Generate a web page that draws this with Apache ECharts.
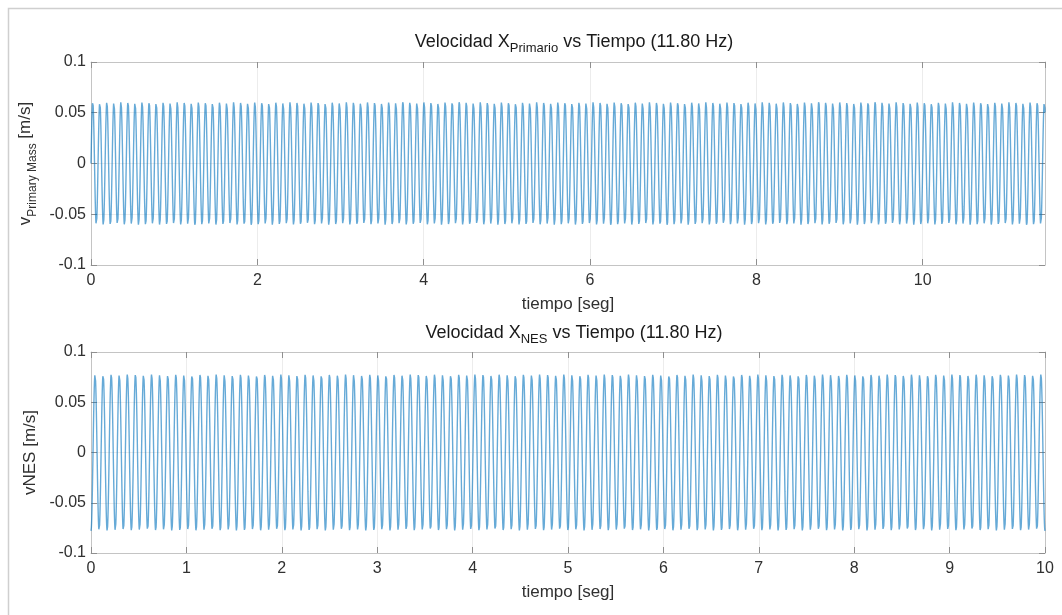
<!DOCTYPE html>
<html>
<head>
<meta charset="utf-8">
<script src="https://cdn.jsdelivr.net/npm/echarts@6/dist/echarts.min.js"></script>
<style>
  html, body { margin: 0; padding: 0; background: #ffffff; }
  #main { width: 1062px; height: 615px; }
</style>
</head>
<body>
<div id="main"></div>
<script>
// values
var freqHz = 11.8;                 // from the titles (11.80 Hz)
var topTimeEnd = 11.47;            // top plot runs to the right border
var bottomTimeEnd = 10;
// amplitude of the oscillation, read once per second
var topEnvelope = [0.061, 0.061, 0.061, 0.061, 0.061, 0.061, 0.061, 0.061, 0.061, 0.061, 0.061, 0.061];
var bottomEnvelope = [0.078, 0.078, 0.078, 0.078, 0.078, 0.078, 0.078, 0.078, 0.078, 0.078, 0.078];
var topPhase = 0;                  // starts at 0 going up
var bottomPhase = -Math.PI / 2;    // starts near the negative peak
var sampleStep = 0.002;
var topXTicks = [0, 2, 4, 6, 8, 10];
var bottomXTicks = [0, 1, 2, 3, 4, 5, 6, 7, 8, 9, 10];
var yTicks = [-0.1, -0.05, 0, 0.05, 0.1];

function buildTrace(tEnd, envelope, phase) {
    var pts = [];
    var n = Math.round(tEnd / sampleStep);
    for (var i = 0; i <= n; i++) {
        var t = i * sampleStep;
        var a = envelope[Math.min(Math.floor(t), envelope.length - 1)];
        pts.push([t, a * Math.sin(2 * Math.PI * freqHz * t + phase)]);
    }
    return pts;
}

var chart = echarts.init(document.getElementById('main'), null, { renderer: 'canvas' });

var font = 'Liberation Sans, Arial, Helvetica, sans-serif';
var labelColor = '#303030';
var boxColor = '#c4c4c4';
var tickColor = '#8f8f8f';
var gridColor = '#ececec';

function xAxisPair(gridIndex, tEnd, step) {
    return [{
        type: 'value', gridIndex: gridIndex, min: 0, max: tEnd, interval: step,
        name: 'tiempo [seg]', nameLocation: 'middle', nameGap: 31,
        nameTextStyle: { color: labelColor, fontSize: 17, fontFamily: font },
        axisLine: { onZero: false, lineStyle: { color: boxColor } },
        axisTick: { inside: true, length: 6, lineStyle: { color: tickColor } },
        axisLabel: { color: labelColor, fontSize: 16, fontFamily: font, margin: 8, showMaxLabel: tEnd % step === 0 },
        splitLine: { show: true, lineStyle: { color: gridColor } }
    }, {
        type: 'value', gridIndex: gridIndex, min: 0, max: tEnd, interval: step, position: 'top',
        axisLine: { onZero: false, lineStyle: { color: boxColor } },
        axisTick: { inside: true, length: 6, lineStyle: { color: tickColor } },
        axisLabel: { show: false }, splitLine: { show: false }
    }];
}

function yAxisPair(gridIndex, name, gap) {
    return [{
        type: 'value', gridIndex: gridIndex, min: yTicks[0], max: yTicks[yTicks.length - 1], interval: 0.05,
        name: name, nameLocation: 'middle', nameGap: gap, nameRotate: 90,
        nameTextStyle: {
            color: labelColor, fontSize: 17, fontFamily: font,
            rich: {
                n: { fontSize: 17, fontFamily: font, color: labelColor, lineHeight: 22, verticalAlign: 'top' },
                s: { fontSize: 12, fontFamily: font, color: labelColor, lineHeight: 22, verticalAlign: 'bottom', padding: [10, 0, 0, 0] }
            }
        },
        axisLine: { onZero: false, lineStyle: { color: boxColor } },
        axisTick: { inside: true, length: 6, lineStyle: { color: tickColor } },
        axisLabel: { color: labelColor, fontSize: 16, fontFamily: font, margin: 5 },
        splitLine: { show: true, lineStyle: { color: gridColor } }
    }, {
        type: 'value', gridIndex: gridIndex, min: yTicks[0], max: yTicks[yTicks.length - 1], interval: 0.05, position: 'right',
        axisLine: { onZero: false, lineStyle: { color: boxColor } },
        axisTick: { inside: true, length: 6, lineStyle: { color: tickColor } },
        axisLabel: { show: false }, splitLine: { show: false }
    }];
}

var titleRich = {
    n: { fontSize: 18, fontFamily: font, fontWeight: 'normal', color: '#1a1a1a', lineHeight: 22, verticalAlign: 'top' },
    s: { fontSize: 13, fontFamily: font, fontWeight: 'normal', color: '#1a1a1a', lineHeight: 22, verticalAlign: 'bottom', padding: [10, 0, 0, 0] }
};

var option = {
    backgroundColor: '#ffffff',
    animation: false,
    graphic: [{
        type: 'rect', left: 6, top: 6, silent: true,
        shape: { width: 1100, height: 700 },
        style: { fill: 'none', stroke: '#cfcfcf', lineWidth: 1.5 }
    }],
    title: [{
        text: '{n|Velocidad X}{s|Primario}{n| vs Tiempo (11.80 Hz)}',
        left: 569, top: 28, textAlign: 'center',
        textStyle: { fontWeight: 'normal', rich: titleRich }
    }, {
        text: '{n|Velocidad X}{s|NES}{n| vs Tiempo (11.80 Hz)}',
        left: 569, top: 319, textAlign: 'center',
        textStyle: { fontWeight: 'normal', rich: titleRich }
    }],
    grid: [
        { left: 91, right: 17, top: 62, height: 203, show: false },
        { left: 91, right: 17, top: 352, height: 201, show: false }
    ],
    xAxis: xAxisPair(0, topTimeEnd, topXTicks[1] - topXTicks[0])
        .concat(xAxisPair(1, bottomTimeEnd, bottomXTicks[1] - bottomXTicks[0])),
    yAxis: yAxisPair(0, '{n|v}{s|Primary Mass}{n| [m/s]}', 50)
        .concat(yAxisPair(1, 'vNES [m/s]', 44)),
    series: [{
        type: 'line', xAxisIndex: 0, yAxisIndex: 0,
        data: buildTrace(topTimeEnd, topEnvelope, topPhase),
        showSymbol: false, sampling: false,
        lineStyle: { color: '#0072BD', width: 1.4, opacity: 0.6 }
    }, {
        type: 'line', xAxisIndex: 2, yAxisIndex: 2,
        data: buildTrace(bottomTimeEnd, bottomEnvelope, bottomPhase),
        showSymbol: false, sampling: false,
        lineStyle: { color: '#0072BD', width: 1.4, opacity: 0.6 }
    }]
};

chart.setOption(option);
</script>
</body>
</html>
